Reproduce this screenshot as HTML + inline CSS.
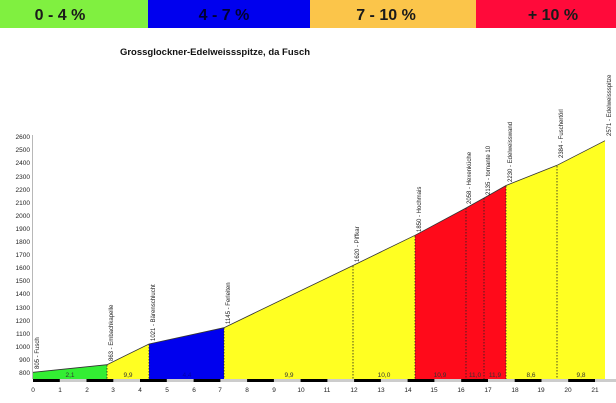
<!DOCTYPE html>
<html><head><meta charset="utf-8"><style>
html,body{margin:0;padding:0;background:#fff;width:616px;height:403px;overflow:hidden}
svg{display:block;font-family:"Liberation Sans",Arial,sans-serif}
</style></head><body>
<svg width="616" height="403" viewBox="0 0 616 403">
<rect x="0" y="0" width="148" height="28" fill="#80f040"/>
<rect x="148" y="0" width="162" height="28" fill="#0000ee"/>
<rect x="310" y="0" width="166" height="28" fill="#fbc54a"/>
<rect x="476" y="0" width="140" height="28" fill="#ff0a3a"/>
<g font-size="16" font-weight="bold" fill="#1a1a1a" text-anchor="middle">
<text x="60" y="20">0 - 4 %</text>
<text x="224" y="20" fill="#000033">4 - 7 %</text>
<text x="386" y="20">7 - 10 %</text>
<text x="553" y="20">+ 10 %</text>
</g>
<text x="215" y="55" font-size="9.5" font-weight="bold" text-anchor="middle" fill="#111">Grossglockner-Edelweissspitze, da Fusch</text>
<!-- fills -->
<polygon points="33,379 33,372.3 107,364.7 107,379" fill="#33ee33"/>
<polygon points="107,379 107,364.7 149,344 149,379" fill="#ffff22"/>
<polygon points="149,379 149,344 224,327.7 224,379" fill="#0000ee"/>
<polygon points="224,379 224,327.7 353,265.5 415,235.3 415,379" fill="#ffff22"/>
<polygon points="415,379 415,235.3 466,208 484,198 506,185.5 506,379" fill="#ff0a1a"/>
<polygon points="506,379 506,185.5 557,165.3 605,140.7 605,379" fill="#ffff22"/>
<polyline points="33,372.3 107,364.7 149,344 224,327.7 353,265.5 415,235.3 466,208 484,198 506,185.5 557,165.3 605,140.7" fill="none" stroke="#333" stroke-width="0.8"/>
<g stroke="#222" stroke-width="0.8" stroke-dasharray="1.5,1.5">
<line x1="107" y1="365" x2="107" y2="379"/><line x1="149" y1="344" x2="149" y2="379"/><line x1="224" y1="328" x2="224" y2="379"/><line x1="353" y1="266" x2="353" y2="379"/><line x1="415" y1="236" x2="415" y2="379"/><line x1="466" y1="208" x2="466" y2="379"/><line x1="484" y1="198" x2="484" y2="379"/><line x1="506" y1="186" x2="506" y2="379"/><line x1="557" y1="166" x2="557" y2="379"/>
</g>
<!-- y axis -->
<line x1="32.5" y1="135" x2="32.5" y2="379" stroke="#888" stroke-width="0.6"/>
<g font-size="6.5" fill="#222" text-anchor="end">
<text x="30" y="375">800</text><text x="30" y="362">900</text><text x="30" y="349">1000</text><text x="30" y="336">1100</text><text x="30" y="323">1200</text><text x="30" y="310">1300</text><text x="30" y="296">1400</text><text x="30" y="283">1500</text><text x="30" y="270">1600</text><text x="30" y="257">1700</text><text x="30" y="244">1800</text><text x="30" y="231">1900</text><text x="30" y="218">2000</text><text x="30" y="205">2100</text><text x="30" y="192">2200</text><text x="30" y="179">2300</text><text x="30" y="165">2400</text><text x="30" y="152">2500</text><text x="30" y="139">2600</text>
</g>
<!-- km bar -->
<rect x="33" y="379" width="583" height="3" fill="#ccc"/>
<g fill="#000">
<rect x="33" y="379" width="26.8" height="3"/><rect x="86.5" y="379" width="26.8" height="3"/><rect x="140" y="379" width="26.8" height="3"/><rect x="193.6" y="379" width="26.8" height="3"/><rect x="247.1" y="379" width="26.8" height="3"/><rect x="300.6" y="379" width="26.8" height="3"/><rect x="354.1" y="379" width="26.8" height="3"/><rect x="407.6" y="379" width="26.8" height="3"/><rect x="461.2" y="379" width="26.8" height="3"/><rect x="514.7" y="379" width="26.8" height="3"/><rect x="568.2" y="379" width="26.8" height="3"/>
</g>
<g font-size="6.5" fill="#222" text-anchor="middle">
<text x="33" y="392">0</text><text x="60" y="392">1</text><text x="87" y="392">2</text><text x="113" y="392">3</text><text x="140" y="392">4</text><text x="167" y="392">5</text><text x="194" y="392">6</text><text x="220" y="392">7</text><text x="247" y="392">8</text><text x="274" y="392">9</text><text x="301" y="392">10</text><text x="327" y="392">11</text><text x="354" y="392">12</text><text x="381" y="392">13</text><text x="408" y="392">14</text><text x="434" y="392">15</text><text x="461" y="392">16</text><text x="488" y="392">17</text><text x="515" y="392">18</text><text x="541" y="392">19</text><text x="568" y="392">20</text><text x="595" y="392">21</text>
</g>
<g font-size="6.5" fill="#333" text-anchor="middle">
<text x="70" y="377">2,1</text><text x="128" y="377">9,9</text><text x="187" y="377" fill="#0000aa">4,4</text><text x="289" y="377">9,9</text><text x="384" y="377">10,0</text><text x="440" y="377">10,9</text><text x="475" y="377">11,0</text><text x="495" y="377">11,9</text><text x="531" y="377">8,6</text><text x="581" y="377">9,8</text>
</g>
<g font-size="6" fill="#222">
<text transform="translate(39,369) rotate(-90)">805 - Fusch</text>
<text transform="translate(113,361) rotate(-90)">863 - Embachkapelle</text>
<text transform="translate(155,341) rotate(-90)">1021 - Bärenschlucht</text>
<text transform="translate(230,324) rotate(-90)">1145 - Ferleiten</text>
<text transform="translate(359,262) rotate(-90)">1620 - Piffkar</text>
<text transform="translate(421,232) rotate(-90)">1850 - Hochmais</text>
<text transform="translate(471,204) rotate(-90)">2058 - Hexenküche</text>
<text transform="translate(490,195) rotate(-90)">2135 - tornante 10</text>
<text transform="translate(512,182) rotate(-90)">2230 - Edelweisswand</text>
<text transform="translate(563,158) rotate(-90)">2384 - Fuschertörl</text>
<text transform="translate(611,136) rotate(-90)">2571 - Edelweissspitze</text>
</g>
</svg>
</body></html>
